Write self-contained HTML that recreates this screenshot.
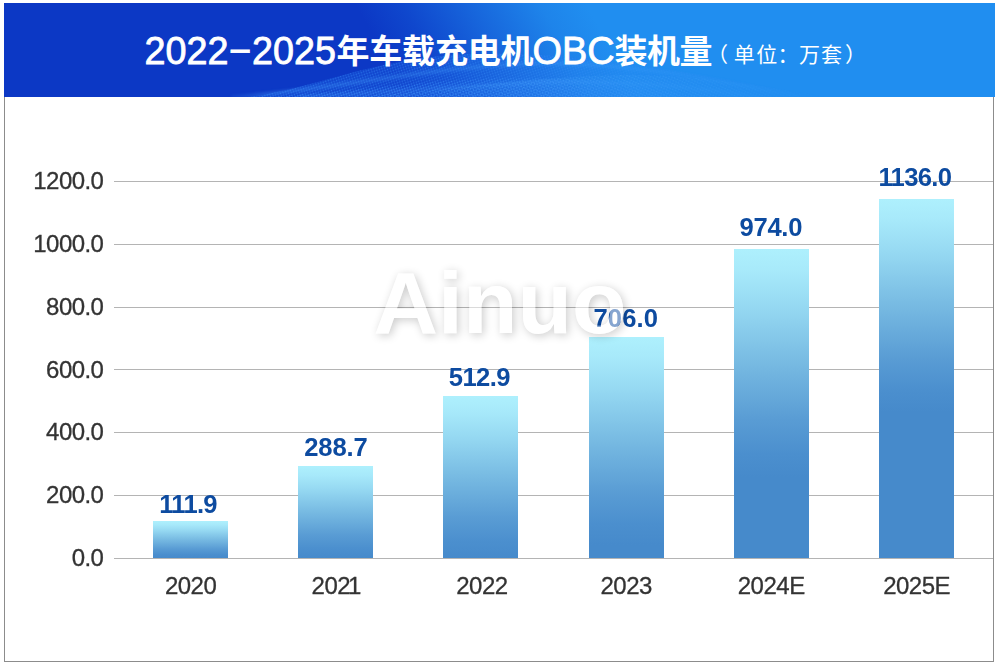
<!DOCTYPE html>
<html lang="zh"><head><meta charset="utf-8"><title>2022-2025年车载充电机OBC装机量</title>
<style>html,body{margin:0;padding:0;background:#fff;}body{width:1000px;height:668px;overflow:hidden;font-family:"Liberation Sans",sans-serif;}svg{display:block;}</style></head>
<body>
<svg width="1000" height="668" viewBox="0 0 1000 668" role="img" aria-label="2022-2025年车载充电机OBC装机量（单位：万套）">
<defs>
<linearGradient id="hg" gradientUnits="userSpaceOnUse" x1="355" y1="4" x2="528.2" y2="-96.0"><stop offset="0" stop-color="#0c38c5"/><stop offset="0.2" stop-color="#0f47cd"/><stop offset="0.5" stop-color="#1766dc"/><stop offset="0.8" stop-color="#1e84ea"/><stop offset="1" stop-color="#208ef0"/></linearGradient>
<linearGradient id="b0" gradientUnits="userSpaceOnUse" x1="0" y1="521" x2="0" y2="558"><stop offset="0" stop-color="#aef0fd"/><stop offset="0.1" stop-color="#a7e9fa"/><stop offset="0.25" stop-color="#96d9f2"/><stop offset="0.5" stop-color="#77bae2"/><stop offset="0.75" stop-color="#599cd4"/><stop offset="0.9" stop-color="#4b8fce"/><stop offset="1" stop-color="#468acb"/></linearGradient>
<linearGradient id="b1" gradientUnits="userSpaceOnUse" x1="0" y1="466" x2="0" y2="558"><stop offset="0" stop-color="#aef0fd"/><stop offset="0.1" stop-color="#a7e9fa"/><stop offset="0.25" stop-color="#96d9f2"/><stop offset="0.5" stop-color="#77bae2"/><stop offset="0.75" stop-color="#599cd4"/><stop offset="0.9" stop-color="#4b8fce"/><stop offset="1" stop-color="#468acb"/></linearGradient>
<linearGradient id="b2" gradientUnits="userSpaceOnUse" x1="0" y1="396" x2="0" y2="558"><stop offset="0" stop-color="#aef0fd"/><stop offset="0.1" stop-color="#a7e9fa"/><stop offset="0.25" stop-color="#96d9f2"/><stop offset="0.5" stop-color="#77bae2"/><stop offset="0.75" stop-color="#599cd4"/><stop offset="0.9" stop-color="#4b8fce"/><stop offset="1" stop-color="#468acb"/></linearGradient>
<linearGradient id="b3" gradientUnits="userSpaceOnUse" x1="0" y1="337" x2="0" y2="545"><stop offset="0" stop-color="#aef0fd"/><stop offset="0.1" stop-color="#a7e9fa"/><stop offset="0.25" stop-color="#96d9f2"/><stop offset="0.5" stop-color="#77bae2"/><stop offset="0.75" stop-color="#599cd4"/><stop offset="0.9" stop-color="#4b8fce"/><stop offset="1" stop-color="#468acb"/></linearGradient>
<linearGradient id="b4" gradientUnits="userSpaceOnUse" x1="0" y1="249" x2="0" y2="477"><stop offset="0" stop-color="#aef0fd"/><stop offset="0.1" stop-color="#a7e9fa"/><stop offset="0.25" stop-color="#96d9f2"/><stop offset="0.5" stop-color="#77bae2"/><stop offset="0.75" stop-color="#599cd4"/><stop offset="0.9" stop-color="#4b8fce"/><stop offset="1" stop-color="#468acb"/></linearGradient>
<linearGradient id="b5" gradientUnits="userSpaceOnUse" x1="0" y1="199" x2="0" y2="412"><stop offset="0" stop-color="#aef0fd"/><stop offset="0.1" stop-color="#a7e9fa"/><stop offset="0.25" stop-color="#96d9f2"/><stop offset="0.5" stop-color="#77bae2"/><stop offset="0.75" stop-color="#599cd4"/><stop offset="0.9" stop-color="#4b8fce"/><stop offset="1" stop-color="#468acb"/></linearGradient>
<filter id="wm" x="-10%" y="-30%" width="120%" height="160%" color-interpolation-filters="sRGB"><feGaussianBlur in="SourceAlpha" stdDeviation="5" result="b"/><feOffset in="b" dx="1.5" dy="2" result="o"/><feComponentTransfer in="o" result="sh"><feFuncA type="linear" slope="0.21"/></feComponentTransfer><feComposite in="sh" in2="SourceAlpha" operator="out" result="so"/><feFlood flood-color="#fff" flood-opacity="0.5"/><feComposite in2="SourceAlpha" operator="in" result="w"/><feMerge><feMergeNode in="so"/><feMergeNode in="w"/></feMerge></filter>
<pattern id="dots" width="2.6" height="2.6" patternUnits="userSpaceOnUse" patternTransform="rotate(-18)"><circle cx="1.3" cy="1.3" r="0.8" fill="#3a92fb"/></pattern>
<pattern id="dots2" width="2.8" height="2.8" patternUnits="userSpaceOnUse" patternTransform="rotate(24)"><circle cx="1.4" cy="1.4" r="0.8" fill="#52b0ff"/></pattern>
<linearGradient id="wfade" gradientUnits="userSpaceOnUse" x1="215" y1="0" x2="830" y2="0"><stop offset="0" stop-color="#fff" stop-opacity="0"/><stop offset="0.08" stop-color="#fff" stop-opacity="1"/><stop offset="0.55" stop-color="#fff" stop-opacity="0.85"/><stop offset="1" stop-color="#fff" stop-opacity="0"/></linearGradient>
<mask id="wmask" maskUnits="userSpaceOnUse" x="0" y="0" width="1000" height="100"><rect x="0" y="0" width="1000" height="100" fill="url(#wfade)"/></mask>
<filter id="rb" x="-5%" y="-50%" width="110%" height="200%"><feGaussianBlur stdDeviation="1.6"/></filter>
<clipPath id="hclip"><rect x="4" y="3" width="991" height="94"/></clipPath>
</defs>
<rect width="1000" height="668" fill="#fff"/>
<rect x="4.5" y="96.5" width="989" height="565" fill="#fff" stroke="#8c8c8c" stroke-width="1"/>
<rect x="4" y="3" width="991" height="94" fill="url(#hg)"/>
<g clip-path="url(#hclip)"><g mask="url(#wmask)"><path d="M222,99 C300,96 345,66 440,56 C540,46 660,66 830,99 Z" fill="#2274ee" opacity="0.22"/><path d="M222,99 C300,96 345,66 440,56 C540,46 660,66 830,99 Z" fill="url(#dots)" opacity="0.55"/><path d="M300,99 C420,96 500,78 620,75 C700,74 760,86 840,99 Z" fill="#3a94f4" opacity="0.10"/><path d="M300,99 C420,96 500,78 620,75 C700,74 760,86 840,99 Z" fill="url(#dots2)" opacity="0.5"/><path d="M225,99 C300,97 380,85 480,79 C560,75 640,82 700,99 Z" fill="url(#dots)" opacity="0.45"/><g fill="none" stroke="#49a6ff" stroke-linecap="round" filter="url(#rb)"><path d="M232,97 C330,90 410,70 520,64 C620,60 720,80 800,97" stroke-width="3" opacity="0.35"/><path d="M300,97 C400,92 470,84 560,82 C640,81 700,88 760,97" stroke-width="2.5" opacity="0.3"/></g></g></g>
<g font-family="'Liberation Sans', 'Noto Sans CJK SC', sans-serif" fill="#fff">
<g font-size="38" stroke="#fff" stroke-width="0.8">
<text x="144.5" y="63.5" textLength="84" lengthAdjust="spacingAndGlyphs">2022</text>
<text x="229" y="63.5">−</text>
<text x="252" y="63.5" textLength="84" lengthAdjust="spacingAndGlyphs">2025</text>
<text x="532.5" y="63.5" textLength="82" lengthAdjust="spacingAndGlyphs">OBC</text>
</g>
<g font-size="33" font-weight="bold">
<text x="336.5" y="62.5" textLength="197" lengthAdjust="spacing">年车载充电机</text>
<text x="614.5" y="62.5" textLength="98" lengthAdjust="spacing">装机量</text>
</g>
<g font-size="21">
<text x="707" y="61.8">（</text>
<text x="733.8" y="61.8" textLength="43.5" lengthAdjust="spacing">单位</text>
<text x="777.5" y="61.8">：</text>
<text x="799" y="61.8" textLength="43" lengthAdjust="spacing">万套</text>
<text x="845" y="61.8">）</text>
</g>
</g>
<line x1="114" y1="558.5" x2="993" y2="558.5" stroke="#b4b4b4" stroke-width="1"/>
<line x1="114" y1="495.5" x2="993" y2="495.5" stroke="#b4b4b4" stroke-width="1"/>
<line x1="114" y1="432.5" x2="993" y2="432.5" stroke="#b4b4b4" stroke-width="1"/>
<line x1="114" y1="369.5" x2="993" y2="369.5" stroke="#b4b4b4" stroke-width="1"/>
<line x1="114" y1="307.5" x2="993" y2="307.5" stroke="#b4b4b4" stroke-width="1"/>
<line x1="114" y1="244.5" x2="993" y2="244.5" stroke="#b4b4b4" stroke-width="1"/>
<line x1="114" y1="181.5" x2="993" y2="181.5" stroke="#b4b4b4" stroke-width="1"/>
<rect x="153" y="521" width="75" height="37" fill="url(#b0)"/>
<rect x="298" y="466" width="75" height="92" fill="url(#b1)"/>
<rect x="443" y="396" width="75" height="162" fill="url(#b2)"/>
<rect x="589" y="337" width="75" height="221" fill="url(#b3)"/>
<rect x="734" y="249" width="75" height="309" fill="url(#b4)"/>
<rect x="879" y="199" width="75" height="359" fill="url(#b5)"/>
<g font-family="'Liberation Sans', sans-serif" font-size="24" letter-spacing="-0.55" fill="#333" stroke="#333" stroke-width="0.3" text-anchor="end" opacity="0.999">
<text x="103.4" y="566.0">0.0</text>
<text x="103.4" y="503.2">200.0</text>
<text x="103.4" y="440.4">400.0</text>
<text x="103.4" y="377.5">600.0</text>
<text x="103.4" y="314.7">800.0</text>
<text x="103.4" y="251.9">1000.0</text>
<text x="103.4" y="189.1">1200.0</text>
</g>
<g font-family="'Liberation Sans', sans-serif" font-size="24" letter-spacing="-0.5" fill="#333" stroke="#333" stroke-width="0.3" text-anchor="middle" opacity="0.999">
<text x="190.6" y="594.3">2020</text>
<text x="336.2" y="594.3">202<tspan dx="-2.2">1</tspan></text>
<text x="481.9" y="594.3">2022</text>
<text x="626.2" y="594.3">2023</text>
<text x="771.2" y="594.3">2024E</text>
<text x="916.6" y="594.3">2025E</text>
</g>
<g font-family="'Liberation Sans', sans-serif" font-size="25.6" font-weight="bold" fill="#0d4ba0" text-anchor="middle" opacity="0.999">
<text x="188.05" y="513.0" letter-spacing="-0.7">111.9</text>
<text x="335.95" y="455.6" letter-spacing="-0.1">288.7</text>
<text x="479.30" y="386.2" letter-spacing="-0.6">512.9</text>
<text x="625.78" y="326.6" letter-spacing="0.15">706.0</text>
<text x="770.85" y="236.0" letter-spacing="-0.3">974.0</text>
<text x="914.85" y="186.0" letter-spacing="-0.7">1136.0</text>
</g>
<text filter="url(#wm)" x="373.6" y="333.2" font-family="'Liberation Sans', sans-serif" font-size="88" font-weight="bold" fill="#fff" textLength="253" lengthAdjust="spacingAndGlyphs">Ainuo</text>
</svg>
</body></html>
